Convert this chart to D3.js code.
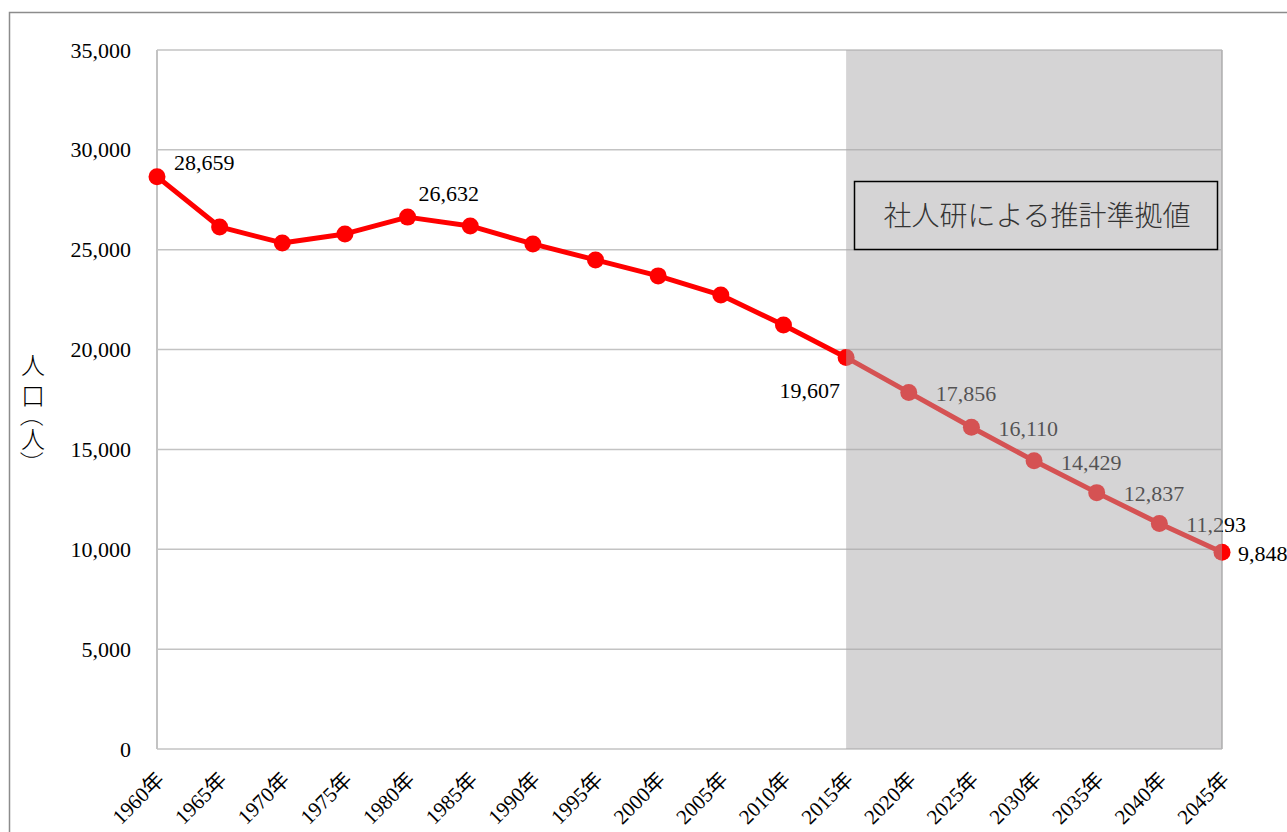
<!DOCTYPE html>
<html>
<head>
<meta charset="utf-8">
<script src="https://cdn.jsdelivr.net/npm/d3@7"></script>
<style>
  html, body { margin: 0; padding: 0; background: #fff; }
  svg { display: block; }
  .ytitle { writing-mode: vertical-rl; text-orientation: mixed; }
  .ytitle .br { text-orientation: sideways; font-feature-settings: "halt" 1; }
</style>
</head>
<body>
<svg id="chart" width="1287" height="832"></svg>
<script>
// Population by year (people); from 2020 on, projected values
const years = [1960, 1965, 1970, 1975, 1980, 1985, 1990, 1995, 2000, 2005, 2010, 2015, 2020, 2025, 2030, 2035, 2040, 2045];
const population = [28659, 26140, 25340, 25790, 26632, 26190, 25290, 24490, 23690, 22730, 21230, 19607, 17856, 16110, 14429, 12837, 11293, 9848];
const yTicks = [0, 5000, 10000, 15000, 20000, 25000, 30000, 35000];
const labelledYears = [1960, 1980, 2015, 2020, 2025, 2030, 2035, 2040, 2045];
const projectionStart = 2015;
const projectionEnd = 2045;
const projectionTitle = "社人研による推計準拠値";
const yAxisTitle = "人口（人）";

const svg = d3.select("#chart");
const numFont = "'Liberation Serif', 'DejaVu Serif', 'Noto Sans CJK JP', serif";
const cjkFont = "'Noto Sans CJK JP', sans-serif";
const fmt = d3.format(",");

const plot = { left: 157, right: 1222, top: 50, bottom: 749 };

const x = d3.scalePoint().domain(years).range([plot.left, plot.right]);
const y = d3.scaleLinear().domain([0, 35000]).range([plot.bottom, plot.top]);

// outer frame
svg.append("rect")
  .attr("x", 9.5).attr("y", 12.5)
  .attr("width", 1300).attr("height", 840)
  .attr("fill", "none").attr("stroke", "#8c8c8c").attr("stroke-width", 1.5);

// horizontal gridlines
svg.append("g")
  .selectAll("line")
  .data(yTicks)
  .join("line")
  .attr("x1", plot.left).attr("x2", plot.right)
  .attr("y1", d => y(d)).attr("y2", d => y(d))
  .attr("stroke", "#c3c3c3").attr("stroke-width", 1.5);

// plot borders left/right
svg.append("line")
  .attr("x1", plot.left).attr("x2", plot.left)
  .attr("y1", plot.top).attr("y2", plot.bottom)
  .attr("stroke", "#c3c3c3").attr("stroke-width", 2);
svg.append("line")
  .attr("x1", plot.right).attr("x2", plot.right)
  .attr("y1", plot.top).attr("y2", plot.bottom)
  .attr("stroke", "#c3c3c3").attr("stroke-width", 2);

// y axis labels
const yAxis = d3.axisLeft(y).tickValues(yTicks).tickFormat(fmt).tickSize(0).tickPadding(0);
const gy = svg.append("g").attr("transform", `translate(131,0)`).call(yAxis);
gy.select(".domain").remove();
gy.selectAll("text")
  .attr("font-family", numFont).attr("font-size", 22).attr("fill", "#000");

// x axis labels, rotated
const xAxis = d3.axisBottom(x).tickFormat(d => d + "年").tickSize(0).tickPadding(0);
const gx = svg.append("g").attr("transform", `translate(0,${plot.bottom})`).call(xAxis);
gx.select(".domain").remove();
gx.selectAll("text")
  .attr("font-family", numFont).attr("font-size", 21).attr("fill", "#000")
  .attr("text-anchor", "end")
  .attr("dy", 0)
  .attr("transform", "translate(8,32) rotate(-45)");

// y axis title, set vertically; brackets turned sideways
const yTitle = svg.append("text")
  .attr("class", "ytitle")
  .attr("x", 33).attr("y", 353)
  .attr("font-family", cjkFont)
  .attr("font-size", 24)
  .attr("font-weight", 300)
  .attr("fill", "#000");
const titleParts = yAxisTitle.match(/[^（）]+|[（）]/g);
titleParts.forEach((part, i) => {
  const isBracket = part === "（" || part === "）";
  yTitle.append("tspan")
    .attr("class", isBracket ? "br" : null)
    .attr("letter-spacing", i === 0 ? 7 : 0)
    .text(part);
});

// population line
const pts = years.map((yr, i) => ({ year: yr, value: population[i] }));
const line = d3.line().x(d => x(d.year)).y(d => y(d.value));
svg.append("path")
  .datum(pts)
  .attr("d", line)
  .attr("fill", "none")
  .attr("stroke", "#ff0000")
  .attr("stroke-width", 5)
  .attr("stroke-linejoin", "round");

svg.append("g")
  .selectAll("circle")
  .data(pts)
  .join("circle")
  .attr("cx", d => x(d.year)).attr("cy", d => y(d.value))
  .attr("r", 8.5)
  .attr("fill", "#ff0000");

// value labels
const labelPos = d => {
  if (d.year === 1960) return { dx: 17, dy: -14, anchor: "start" };
  if (d.year === 1980) return { dx: 11, dy: -24, anchor: "start" };
  if (d.year === 2015) return { dx: -6, dy: 33, anchor: "end" };
  if (d.year === 2045) return { dx: 16, dy: 1, anchor: "start" };
  return { dx: 27, dy: 1, anchor: "start" };
};
svg.append("g")
  .selectAll("text")
  .data(pts.filter(d => labelledYears.includes(d.year)))
  .join("text")
  .attr("x", d => x(d.year) + labelPos(d).dx)
  .attr("y", d => y(d.value) + labelPos(d).dy)
  .attr("dy", "0.35em")
  .attr("text-anchor", d => labelPos(d).anchor)
  .attr("font-family", numFont).attr("font-size", 22)
  .attr("fill", "#000")
  .text(d => fmt(d.value));

// projection period shading
svg.append("rect")
  .attr("x", x(projectionStart)).attr("y", plot.top)
  .attr("width", x(projectionEnd) - x(projectionStart))
  .attr("height", plot.bottom - plot.top)
  .attr("fill", "rgb(170,168,170)")
  .attr("fill-opacity", 0.49);

// projection legend box
svg.append("rect")
  .attr("x", 854.5).attr("y", 181.5)
  .attr("width", 363).attr("height", 68)
  .attr("fill", "none").attr("stroke", "#000").attr("stroke-width", 1.5);
svg.append("text")
  .attr("x", 1037).attr("y", 216)
  .attr("dy", "0.35em")
  .attr("text-anchor", "middle")
  .attr("font-family", cjkFont)
  .attr("font-size", 28)
  .attr("font-weight", 300)
  .attr("fill", "#333")
  .text(projectionTitle);
</script>
</body>
</html>
